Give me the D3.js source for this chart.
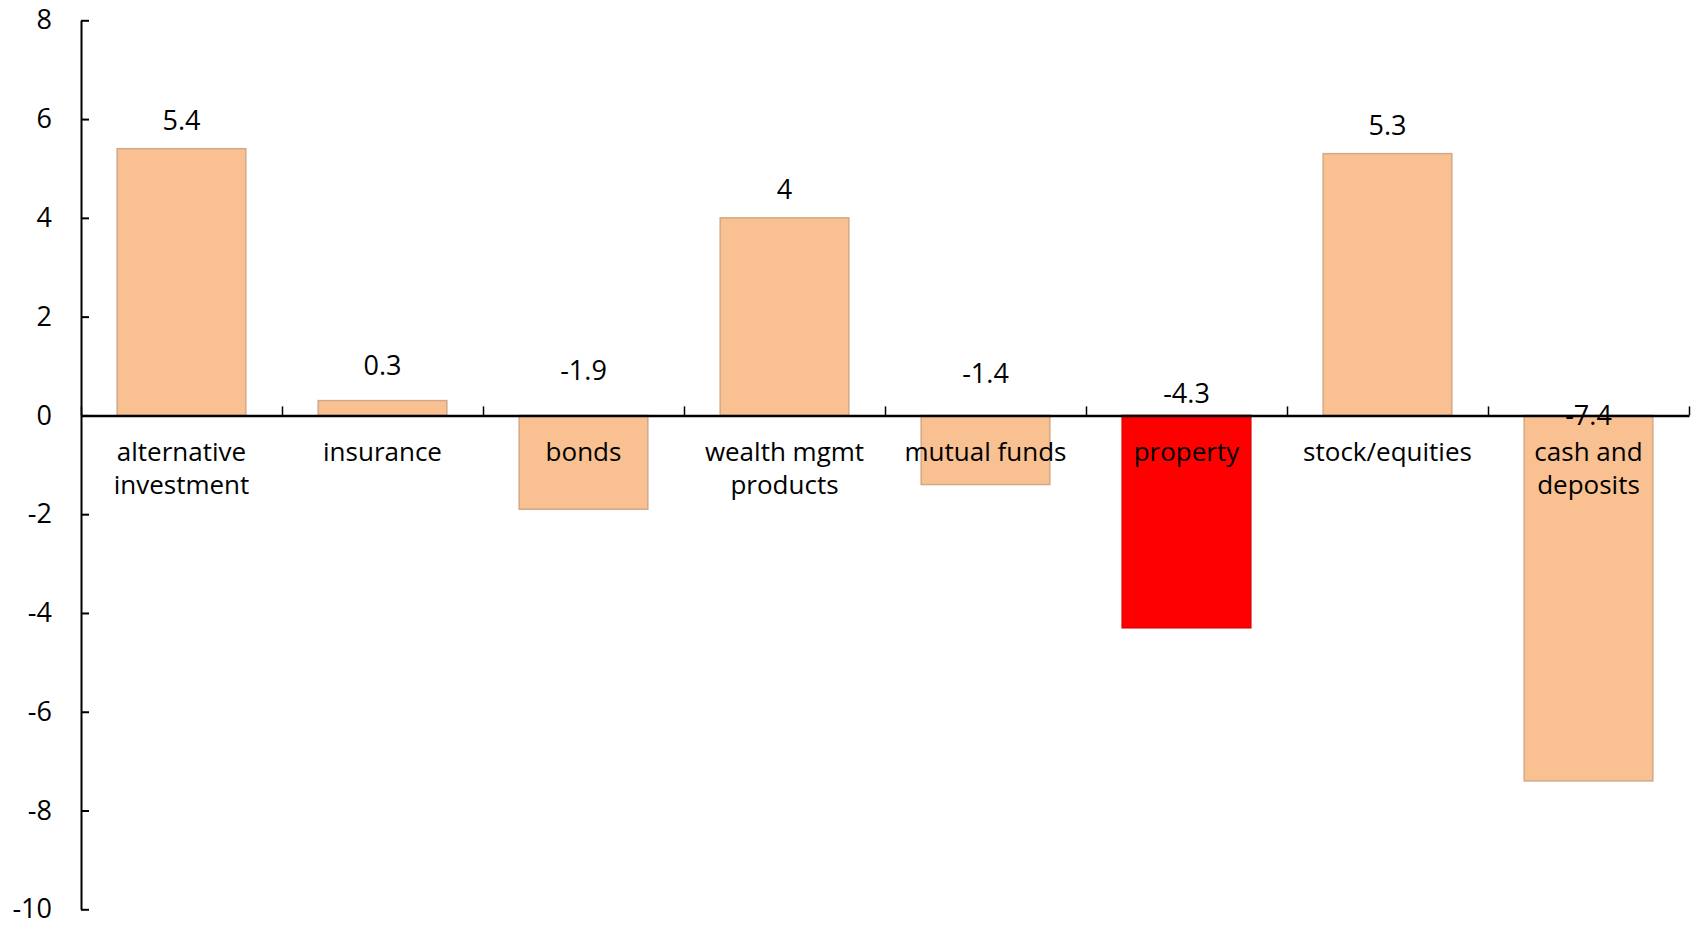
<!DOCTYPE html>
<html>
<head>
<meta charset="utf-8">
<script src="https://cdn.jsdelivr.net/npm/d3@7"></script>
<style>
  html, body { margin: 0; padding: 0; background: #ffffff; }
  svg { display: block; }
  text { font-family: "Open Sans", Lato, sans-serif; fill: #000; }
</style>
</head>
<body>
<svg id="chart" width="1700" height="929"></svg>
<script>
// ---- data ----
const categories = [
  "alternative investment", "insurance", "bonds", "wealth mgmt products",
  "mutual funds", "property", "stock/equities", "cash and deposits"
];
const values = [5.4, 0.3, -1.9, 4, -1.4, -4.3, 5.3, -7.4];
const highlighted = ["property"];
const yTicks = [8, 6, 4, 2, 0, -2, -4, -6, -8, -10];

// ---- layout & style ----
const W = 1700, H = 929;
const plot = { left: 81, right: 1689, top: 20.3, bottom: 909.3 };
const fontFamily = "'Open Sans', Lato, sans-serif";
const catFontSize = 26, numFontSize = 27;
const barFill = "#F9C191", barStroke = "#D2A887";
const hiFill = "#FF0000", hiStroke = "#E00000";
// pixels each value label sits above its anchor (bar top for gains, zero line for losses)
const labelLift = [19, 26, 35.5, 19, 32.5, 12.5, 19, -9.5];

const svg = d3.select("#chart");

const y = d3.scaleLinear().domain([-10, 8]).range([plot.bottom, plot.top]);
const x = d3.scaleBand().domain(categories)
  .range([plot.left, plot.right]).paddingInner(0.36).paddingOuter(0.18);
const xEdges = d3.scaleLinear().domain([0, categories.length]).range([plot.left, plot.right]);

const rows = categories.map((c, i) => ({ c, v: values[i], i }));

// bars
svg.append("g").selectAll("rect").data(rows).join("rect")
  .attr("x", d => x(d.c))
  .attr("width", x.bandwidth())
  .attr("y", d => y(Math.max(0, d.v)))
  .attr("height", d => Math.abs(y(d.v) - y(0)))
  .attr("fill", d => highlighted.includes(d.c) ? hiFill : barFill)
  .attr("stroke", d => highlighted.includes(d.c) ? hiStroke : barStroke)
  .attr("stroke-width", 1.5);

// y axis
const yAxis = svg.append("g")
  .attr("transform", `translate(${plot.left},0)`)
  .call(d3.axisLeft(y).tickValues(yTicks).tickFormat(d => String(d))
    .tickSize(-8).tickSizeOuter(0).tickPadding(29));
yAxis.select(".domain").attr("stroke", "#000").attr("stroke-width", 2);
yAxis.selectAll(".tick line").attr("stroke", "#000").attr("stroke-width", 2);
yAxis.selectAll(".tick text")
  .style("font-family", fontFamily)
  .attr("font-size", numFontSize).attr("fill", "#000");

// x axis along zero, ticks between categories
const xAxis = svg.append("g")
  .attr("transform", `translate(0,${y(0)})`)
  .call(d3.axisBottom(xEdges).tickValues(d3.range(categories.length + 1))
    .tickFormat("").tickSize(-9).tickSizeOuter(0));
xAxis.select(".domain").attr("stroke", "#000").attr("stroke-width", 2.5);
xAxis.selectAll(".tick line").attr("stroke", "#000").attr("stroke-width", 1.5);

// category labels (wrapped to fit the band)
const catG = svg.append("g").attr("font-size", catFontSize).attr("text-anchor", "middle");
const maxW = 190, lineH = 33;
rows.forEach(d => {
  const cx = x(d.c) + x.bandwidth() / 2;
  const t = catG.append("text").attr("x", cx).attr("y", y(0) + 46);
  const words = d.c.split(" ");
  let line = [];
  let ts = t.append("tspan").attr("x", cx).attr("dy", 0);
  words.forEach(w => {
    line.push(w);
    ts.text(line.join(" "));
    if (ts.node().getComputedTextLength() > maxW && line.length > 1) {
      line.pop();
      ts.text(line.join(" "));
      line = [w];
      ts = t.append("tspan").attr("x", cx).attr("dy", lineH).text(w);
    }
  });
});

// value labels
svg.append("g").attr("font-size", numFontSize).attr("text-anchor", "middle")
  .selectAll("text").data(rows).join("text")
  .attr("x", d => x(d.c) + x.bandwidth() / 2)
  .attr("y", d => (d.v >= 0 ? y(d.v) : y(0)) - labelLift[d.i])
  .text(d => String(d.v));
</script>
</body>
</html>
